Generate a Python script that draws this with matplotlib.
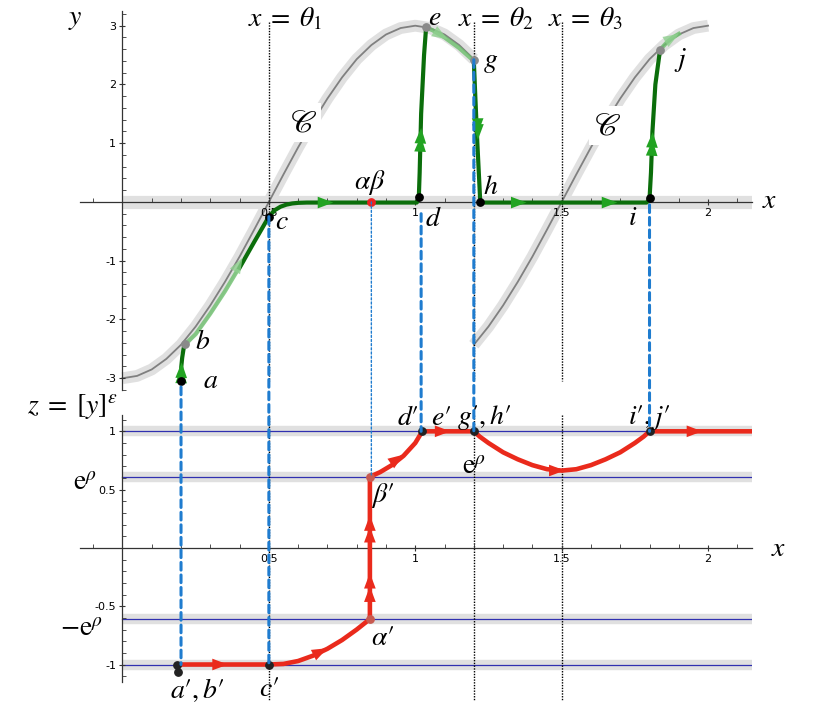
import matplotlib
matplotlib.use('Agg')
import matplotlib.pyplot as plt
from matplotlib.patches import FancyArrowPatch, ConnectionPatch
from matplotlib.ticker import FixedLocator, MultipleLocator
from matplotlib.mathtext import MathTextParser
from matplotlib.font_manager import FontProperties

plt.rcParams['mathtext.fontset'] = 'stix'
plt.rcParams['font.family'] = ['DejaVu Sans']

# ---------------- data ----------------
# slow curve C, two branches
curve1_x = [0.0, 0.05, 0.1, 0.15, 0.2, 0.25, 0.3, 0.35, 0.4, 0.45, 0.5, 0.55, 0.6,
            0.65, 0.7, 0.75, 0.8, 0.85, 0.9, 0.95, 1.0, 1.05, 1.1, 1.15, 1.2]
curve1_y = [-3.0, -2.96, -2.85, -2.67, -2.43, -2.12, -1.76, -1.36, -0.93, -0.47, 0.0,
            0.47, 0.93, 1.36, 1.76, 2.12, 2.43, 2.67, 2.85, 2.96, 3.0, 2.96, 2.85, 2.67, 2.43]
curve2_x = [1.2, 1.25, 1.3, 1.35, 1.4, 1.45, 1.5, 1.55, 1.6, 1.65, 1.7, 1.75, 1.8,
            1.85, 1.9, 1.95, 2.0]
curve2_y = [-2.43, -2.12, -1.76, -1.36, -0.93, -0.47, 0.0, 0.47, 0.93, 1.36, 1.76,
            2.12, 2.43, 2.67, 2.85, 2.96, 3.0]

# green trajectory (top panel)
g_ab_x = [0.200, 0.201, 0.204, 0.208, 0.212]
g_ab_y = [-2.97, -2.80, -2.65, -2.52, -2.42]
g_bc_light_x = [0.212, 0.25, 0.30, 0.35, 0.41]
g_bc_light_y = [-2.43, -2.25, -1.90, -1.52, -1.02]
g_main_x = [0.40, 0.45, 0.50, 0.52, 0.54, 0.56, 0.58, 0.60, 0.63, 0.66, 0.80, 1.005,
            1.012, 1.015, 1.02, 1.03, 1.037]
g_main_y = [-1.12, -0.68, -0.25, -0.14, -0.08, -0.045, -0.025, -0.015, -0.01, -0.01,
            -0.01, -0.01, 0.06, 0.5, 1.5, 2.5, 2.97]
g_eg_light_x = [1.037, 1.06, 1.10, 1.15, 1.20]
g_eg_light_y = [2.97, 2.92, 2.80, 2.62, 2.40]
g_ghij_x = [1.200, 1.205, 1.212, 1.218, 1.222, 1.30, 1.60, 1.790, 1.800, 1.805, 1.810,
            1.820, 1.836]
g_ghij_y = [2.40, 1.80, 1.00, 0.40, -0.01, -0.01, -0.01, -0.01, 0.05, 0.50, 1.20,
            2.00, 2.59]
g_jend_light_x = [1.836, 1.86, 1.88, 1.90]
g_jend_light_y = [2.59, 2.72, 2.80, 2.86]

# red trajectory (bottom panel)
red_x = [0.19, 0.3, 0.4, 0.5, 0.55, 0.6, 0.65, 0.7, 0.75, 0.8, 0.845, 0.845, 0.88,
         0.92, 0.96, 1.0, 1.024, 1.1, 1.2, 1.22, 1.25, 1.3, 1.35, 1.4, 1.45, 1.5,
         1.55, 1.6, 1.65, 1.7, 1.75, 1.78, 1.8, 1.9, 2.0, 2.15]
red_z = [-1.0, -1.0, -1.0, -1.0, -0.995, -0.97, -0.925, -0.865, -0.79, -0.70, -0.61,
         0.61, 0.65, 0.71, 0.79, 0.90, 1.0, 1.0, 1.0, 0.955, 0.90, 0.82, 0.76, 0.71,
         0.675, 0.663, 0.675, 0.71, 0.76, 0.82, 0.90, 0.955, 1.0, 1.0, 1.0, 1.0]

z_levels = [1.0, 0.61, -0.61, -1.0]
thetas = [0.5, 1.2, 1.5]
theta_labels = [r'$x\;=\;\theta_1$', r'$x\;=\;\theta_2$', r'$x\;=\;\theta_3$']
theta_label_x = [0.43, 1.147, 1.454]

# arrowheads: (tail_x, tail_y, tip_x, tip_y)
green_arrows = [
    (0.2012, -2.90, 0.2022, -2.73), (0.2008, -2.99, 0.2015, -2.82),
    (0.69, -0.01, 0.72, -0.01),
    (1.018, 1.02, 1.019, 1.12), (1.019, 1.16, 1.020, 1.26),
    (1.213, 1.26, 1.213, 1.16), (1.214, 1.16, 1.214, 1.06),
    (1.35, -0.01, 1.38, -0.01), (1.66, -0.01, 1.69, -0.01),
    (1.809, 0.95, 1.810, 1.05), (1.810, 1.09, 1.811, 1.19),
]
light_arrows = [
    (0.40, -1.04, 0.41, -0.95),
    (1.09, 2.83, 1.11, 2.77),
    (1.88, 2.80, 1.90, 2.86),
]
red_arrows = [
    (0.33, -1.0, 0.36, -1.0),
    (0.68, -0.885, 0.70, -0.86),
    (0.845, -0.42, 0.845, -0.33), (0.845, -0.305, 0.845, -0.215),
    (0.845, 0.09, 0.845, 0.18), (0.845, 0.19, 0.845, 0.28),
    (0.94, 0.765, 0.96, 0.80),
    (1.09, 1.0, 1.12, 1.0),
    (1.48, 0.664, 1.51, 0.664),
    (1.95, 1.0, 1.98, 1.0),
]

# points
black_top_x = [0.200, 0.500, 1.013, 1.222, 1.800]
black_top_y = [-3.04, -0.25, 0.08, 0.00, 0.07]
gray_top_x = [0.212, 1.037, 1.200, 1.836]
gray_top_y = [-2.42, 2.97, 2.42, 2.59]
ab_x, ab_y = [0.85], [0.0]
black_bot_x = [0.185, 0.188, 0.500, 1.024, 1.200, 1.800]
black_bot_z = [-1.0, -1.065, -1.0, 1.0, 1.0, 1.0]
ab_bot_x = [0.845, 0.845]
ab_bot_z = [-0.61, 0.61]

# labels
top_labels = [('$a$', 0.30, -3.03), ('$b$', 0.275, -2.37), ('$c$', 0.545, -0.33),
              ('$d$', 1.06, -0.28), ('$e$', 1.065, 3.15), ('$g$', 1.258, 2.40),
              ('$h$', 1.258, 0.28), ('$i$', 1.744, -0.26), ('$j$', 1.905, 2.42),
              (r'$\alpha\beta$', 0.846, 0.33)]
C_labels = [(0.618, 1.35), (1.655, 1.30)]
bot_labels = [("$a′,b′$", 0.255, -1.22), ("$c′$", 0.5, -1.2), (r"$\alpha′$", 0.89, -0.76),
              (r"$\beta′$", 0.89, 0.45), ("$d′$", 0.975, 1.12), ("$e′$", 1.09, 1.12),
              ("$g′,h′$", 1.235, 1.12), ("$i′,j′$", 1.80, 1.12),
              (r'$\mathrm{e}^{\rho}$', 1.20, 0.70)]

# connectors (x, y_top, z_bottom)
connectors = [(0.2, -3.15, -1.0), (0.5, -0.25, -1.0), (1.02, -0.2, 1.0),
              (1.2, 2.42, 1.0), (1.8, -0.05, 1.0)]
thin_connector = (0.85, 0.0, 0.61)


def mt_ok(s):
    try:
        MathTextParser('path').parse(s, 72, FontProperties(math_fontfamily='stix'))
        return True
    except Exception:
        return False


C_str = r'$\mathcal{C}$'
for cand in (r'$\mathscr{C}$', '$\U0001D49E$'):
    if mt_ok(cand):
        C_str = cand
        break
PRIME_OK = mt_ok('$d′$')
if not PRIME_OK:
    bot_labels = [(t.replace('′', "'"), x, y) for t, x, y in bot_labels]

# ---------------- figure ----------------
W, H = 830, 706
fig = plt.figure(figsize=(W / 100, H / 100), dpi=100)
ax1 = fig.add_axes([80 / W, 1 - 390 / H, 672 / W, 379 / H])
ax2 = fig.add_axes([80 / W, 1 - 682 / H, 672 / W, 267 / H])

XL = (-0.145, 2.15)
ax1.set_xlim(*XL); ax1.set_ylim(-3.2, 3.25)
ax2.set_xlim(*XL); ax2.set_ylim(-1.15, 1.14)

spc = '#333333'
for ax in (ax1, ax2):
    for s in ('top', 'right'):
        ax.spines[s].set_visible(False)
    ax.spines['left'].set_position(('data', 0))
    ax.spines['bottom'].set_position(('data', 0))
    for s in ('left', 'bottom'):
        ax.spines[s].set_color(spc)
        ax.spines[s].set_linewidth(0.9)
        ax.spines[s].set_zorder(1.5)
    ax.patch.set_alpha(0)
    ax.xaxis.set_major_locator(FixedLocator([0.5, 1, 1.5, 2]))
    ax.xaxis.set_minor_locator(MultipleLocator(0.1))
    ax.tick_params(which='major', direction='inout', length=5, width=0.8, color=spc,
                   labelsize=8, pad=2)
    ax.tick_params(which='minor', direction='in', length=3, width=0.6, color=spc)
    ax.xaxis.set_major_formatter(plt.FuncFormatter(lambda v, p: ('%g' % v)))
    ax.yaxis.set_major_formatter(plt.FuncFormatter(lambda v, p: ('%g' % v)))

ax1.yaxis.set_major_locator(FixedLocator([-3, -2, -1, 1, 2, 3]))
ax1.yaxis.set_minor_locator(MultipleLocator(0.2))
ax2.yaxis.set_major_locator(FixedLocator([-1, -0.5, 0.5, 1]))
ax2.yaxis.set_minor_locator(MultipleLocator(0.1))

halo = '#e0e0e0'
# top panel: halos and curve
ax1.plot([0, 2.17], [0, 0], color=halo, lw=9.5, solid_capstyle='butt', zorder=1)
for cx, cy in ((curve1_x, curve1_y), (curve2_x, curve2_y)):
    ax1.plot(cx, cy, color=halo, lw=8.5, solid_capstyle='butt', zorder=1.1)
    ax1.plot(cx, cy, color='#808080', lw=1.3, zorder=1.2)

# bottom panel: levels
for zl in z_levels:
    ax2.plot([0, 2.17], [zl, zl], color=halo, lw=7.5, solid_capstyle='butt', zorder=1)
    ax2.plot([0, 2.15], [zl, zl], color='#3030b0', lw=0.9, zorder=1.2)

# theta lines
for t in thetas:
    ax1.plot([t, t], [3.07, -3.05], color='black', lw=1, ls=(0, (1, 1)), zorder=1.3)
    ax2.plot([t, t], [1.14, -1.31], color='black', lw=1, ls=(0, (1, 1)), zorder=1.3,
             clip_on=False)
for lab, lx in zip(theta_labels, theta_label_x):
    ax1.text(lx, 3.13, lab, fontsize=20, ha='left', va='center', zorder=6)

# green trajectory
dg = '#0b6e0b'
lg = '#6cbf6c'
ax1.plot(g_ab_x, g_ab_y, color=dg, lw=3, solid_capstyle='round', zorder=3)
ax1.plot(g_bc_light_x, g_bc_light_y, color=lg, lw=3, alpha=0.8, zorder=2.9)
ax1.plot(g_main_x, g_main_y, color=dg, lw=3, solid_joinstyle='round', zorder=3)
ax1.plot(g_eg_light_x, g_eg_light_y, color=lg, lw=3, alpha=0.8, zorder=2.9)
ax1.plot(g_ghij_x, g_ghij_y, color=dg, lw=3, solid_joinstyle='round', zorder=3)
ax1.plot(g_jend_light_x, g_jend_light_y, color=lg, lw=3, alpha=0.8, zorder=2.9)


def head(ax, tx, ty, hx, hy, color, alpha=1.0, ms=14, z=4):
    p = FancyArrowPatch((tx, ty), (hx, hy), arrowstyle='-|>,head_length=0.8,head_width=0.3',
                        mutation_scale=ms, lw=0, color=color, alpha=alpha,
                        shrinkA=0, shrinkB=0, zorder=z)
    ax.add_patch(p)


for a in green_arrows:
    head(ax1, *a, color='#22a322')
for a in light_arrows:
    head(ax1, *a, color='#8fd08f', alpha=0.8)

# red trajectory
ax2.plot(red_x, red_z, color='#ea2a1c', lw=3.3, solid_joinstyle='round', zorder=3)
for a in red_arrows:
    head(ax2, *a, color='#ea2a1c')

# connectors
for cx, yt, zb in connectors:
    cp = ConnectionPatch(xyA=(cx, yt), coordsA=ax1.transData, xyB=(cx, zb),
                         coordsB=ax2.transData, color='#1f7ccf', lw=2.2,
                         linestyle=(0, (2.5, 1.6)), zorder=5)
    fig.add_artist(cp)
cx, yt, zb = thin_connector
cp = ConnectionPatch(xyA=(cx, yt), coordsA=ax1.transData, xyB=(cx, zb),
                     coordsB=ax2.transData, color='#1f7ccf', lw=1.0,
                     linestyle=(0, (1.5, 1.5)), zorder=5)
fig.add_artist(cp)

# points
ax1.scatter(black_top_x, black_top_y, s=28, color='black', zorder=7)
ax1.scatter(gray_top_x, gray_top_y, s=28, color='#8a8a8a', zorder=7)
ax1.scatter(ab_x, ab_y, s=28, color='#ee2222', zorder=7)
ax2.scatter(black_bot_x, black_bot_z, s=28, color='#222222', zorder=7)
ax2.scatter(ab_bot_x, ab_bot_z, s=28, color='#c85a50', zorder=7)

# labels
FS = 20
for t, x, y in top_labels:
    ax1.text(x, y, t, fontsize=FS, ha='center', va='center', zorder=8)
for x, y in C_labels:
    ax1.text(x, y, C_str, fontsize=23, ha='center', va='center', zorder=8,
             bbox=dict(facecolor='white', edgecolor='none', pad=3))
for t, x, y in bot_labels:
    ax2.text(x, y, t, fontsize=FS, ha='center', va='center', zorder=8)

ax1.text(-0.16, 3.13, '$y$', fontsize=FS, ha='center', va='center')
ax1.text(2.21, 0.03, '$x$', fontsize=FS, ha='center', va='center')
ax2.text(2.24, 0.0, '$x$', fontsize=FS, ha='center', va='center')
ax2.text(-0.17, 1.21, r'$z\;=\;[y]^{\varepsilon}$', fontsize=FS, ha='center', va='center')
ax2.text(-0.17, 0.56, r'$\mathrm{e}^{\rho}$', fontsize=FS, ha='left', va='center')
ax2.text(-0.215, -0.69, r'$-\mathrm{e}^{\rho}$', fontsize=FS, ha='left', va='center')

fig.savefig('out.png', dpi=100)
